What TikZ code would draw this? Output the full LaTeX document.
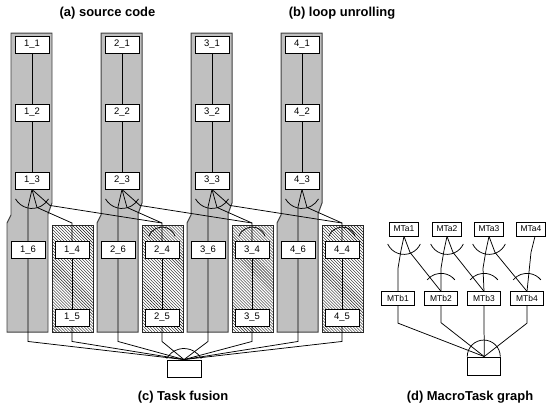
\documentclass[tikz,border=0pt]{standalone}
\usepackage{fontspec}
\setmainfont{Liberation Sans}
\usetikzlibrary{patterns}
\definecolor{silv}{RGB}{192,192,192}
\begin{document}
\begin{tikzpicture}[x=1bp,y=-1bp,
  colbox/.style={fill=silv,draw=black!75,line width=1pt},
  hatchbox/.style={pattern=north west lines,pattern color=black!90,draw=black!85,line width=1pt},
  tbox/.style={draw,fill=white,line width=0.9pt,minimum width=34bp,minimum height=17bp,inner sep=0pt,font=\fontsize{9.5}{10}\selectfont},
  mbox/.style={draw,fill=white,line width=0.8pt,minimum width=29bp,minimum height=14bp,inner sep=0pt,font=\fontsize{8.5}{9}\selectfont},
  edge/.style={line width=0.75pt},
  captxt/.style={font=\bfseries\fontsize{13}{15}\selectfont}]
\useasboundingbox (0,0) rectangle (555,413);

% backgrounds
\foreach \k in {0,1,2,3}{
  \pgfmathsetmacro{\dx}{90*\k}
  \draw[colbox] ({11+\dx},33) -- ({52+\dx},33) -- ({52+\dx},203) -- ({48+\dx},214) -- ({48+\dx},332) -- ({7+\dx},332) -- ({7+\dx},223) -- ({11+\dx},215) -- cycle;
  \draw[hatchbox] ({52+\dx},225) rectangle ({93+\dx},332);
}

% nodes of (a)-(c)
\foreach \k in {0,1,2,3}{
  \pgfmathsetmacro{\dx}{90*\k}
  \pgfmathtruncatemacro{\c}{\k+1}
  \node[tbox] (t\c-1) at ({32+\dx},44.5) {\c\_1};
  \node[tbox] (t\c-2) at ({32+\dx},112.5) {\c\_2};
  \node[tbox] (t\c-3) at ({32+\dx},180.5) {\c\_3};
  \node[tbox] (t\c-6) at ({28+\dx},250) {\c\_6};
  \node[tbox] (t\c-4) at ({72+\dx},250) {\c\_4};
  \node[tbox] (t\c-5) at ({72+\dx},317.5) {\c\_5};
  \coordinate (j\c) at ({72+\dx},223);
}
\node[tbox] (fbox) at (184,368.5) {};

% edges of (a)-(c)
\foreach \k in {0,1,2,3}{
  \pgfmathtruncatemacro{\c}{\k+1}
  \pgfmathtruncatemacro{\d}{\k+2}
  \draw[edge] (t\c-1) -- (t\c-2);
  \draw[edge] (t\c-2) -- (t\c-3);
  \draw[edge] (t\c-3.south) -- ++(-4,17.5) -- (t\c-6.north);
  \draw[edge] (t\c-3.south) -- ++(5,18) -- (j\c) -- (t\c-4.north);
  \draw[edge] (t\c-4) -- (t\c-5);
  \draw[edge] (t\c-6.south) -- ++(0,82.5) -- (fbox.north);
  \draw[edge] (t\c-5.south) -- ++(0,15) -- (fbox.north);
  \draw[edge] (t\c-3.south) ++(150:19) arc[start angle=150,end angle=30,radius=19];
  \ifnum\k<3
    \draw[edge] (t\c-3.south) -- ++(18,16) -- (j\d);
  \fi
  \ifnum\k>0
    \draw[edge] (t\c-4.north) ++(200:14) arc[start angle=200,end angle=340,radius=14];
  \fi
}
\draw[edge] (fbox.center) ++(210:20) arc[start angle=210,end angle=330,radius=20];

% (d) MacroTask graph
\foreach \i/\x in {1/404,2/447,3/489,4/531}
  \node[mbox] (a\i) at (\x,229) {MTa\i};
\foreach \i/\x in {1/398,2/441,3/484,4/527}
  \node[mbox,minimum width=33bp,minimum height=13.5bp] (b\i) at (\x,298.5) {MTb\i};
\node[tbox,minimum width=33bp,minimum height=18bp] (fin) at (484.2,366) {};

\foreach \i/\j in {1/2,2/3,3/4}{
  \draw[edge] (a\i.south) -- ++(-3,14) -- ++(-3,18) -- (b\i.north);
  \draw[edge] (a\i.south) -- ++(6,16) -- (b\j.north);
  \draw[edge] (a\i.south) ++(155:18) arc[start angle=155,end angle=25,radius=18];
  \draw[edge] (b\j.north) ++(220:18) arc[start angle=220,end angle=320,radius=18];
}
\draw[edge] ([xshift=4bp]a4.south) -- ++(-4,16) -- (b4.north);

\draw[edge] (b1.south) -- ++(0,17.5) -- (fin.north);
\draw[edge] (b2.south) -- ++(0,17) -- (fin.north);
\draw[edge] (b3.south) -- (fin.north);
\draw[edge] (b4.south) -- ++(0,17.5) -- (fin.north);
\draw[edge] (fin.north west) arc[start angle=180,end angle=360,radius=16.5];

% captions
\node[captxt] (capa) at (107.5,13) {(a) source code};
\node[captxt] (capb) at (342,13) {(b) loop unrolling};
\node[captxt] (capc) at (183,397) {(c) Task fusion};
\node[captxt] (capd) at (470,397) {(d) MacroTask graph};
\end{tikzpicture}
\end{document}
